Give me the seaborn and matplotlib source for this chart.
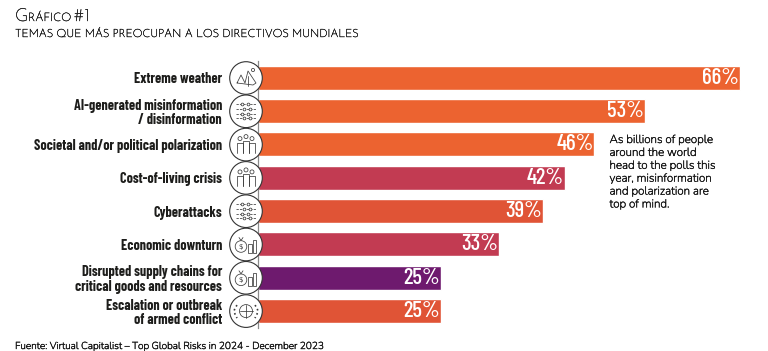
# Top risks bar chart
import numpy as np
import pandas as pd
import matplotlib
matplotlib.use('Agg')
import matplotlib.pyplot as plt
import matplotlib.patheffects as pe
from matplotlib.patches import Circle, Rectangle
import seaborn as sns

# Data
labels = ['Extreme weather', 'AI-generated misinformation\n/ disinformation',
          'Societal and/or political polarization', 'Cost-of-living crisis',
          'Cyberattacks', 'Economic downturn',
          'Disrupted supply chains for\ncritical goods and resources',
          'Escalation or outbreak\nof armed conflict']
values = [66, 53, 46, 42, 39, 33, 25, 25]
bar_colors = ['#EC6330', '#EC6330', '#EC6330', '#C23B52', '#E05436', '#C23B52', '#6E1A6E', '#E05436']
icons = ['nature', 'network', 'people', 'people', 'network', 'money', 'money', 'globe']
note = 'As billions of people\naround the world\nhead to the polls this\nyear, misinformation\nand polarization are\ntop of mind.'
source = 'Fuente: Virtual Capitalist – Top Global Risks in 2024 - December 2023'

sns.set_theme(style='white')
narrow = ['Barlow Condensed', 'Roboto Condensed', 'Roboto', 'DejaVu Sans']
head = ['Josefin Sans', 'Lato', 'DejaVu Sans']
body = ['Nunito Sans', 'Lato', 'DejaVu Sans']
W, H = 768, 351
fig = plt.figure(figsize=(W / 100, H / 100), dpi=100)

# overlay in pixel coordinates for icons and free text
ov = fig.add_axes([0, 0, 1, 1], zorder=3)
ov.set_xlim(0, W)
ov.set_ylim(H, 0)
ov.axis('off')

ax = fig.add_axes([258 / W, 1 - 327.8 / H, 510 / W, 266.8 / H], zorder=1)
df = pd.DataFrame({'label': labels, 'value': values})
sns.barplot(data=df, x='value', y='label', hue='label', palette=bar_colors, legend=False,
            dodge=False, width=0.72, ax=ax, saturation=1)
ax.set_xlim(0, 510 / 7.3)
ax.set_ylim(7.5, -0.5)
ax.set_xlabel('')
ax.set_ylabel('')
ax.set_xticks([])
ax.tick_params(axis='y', length=0, pad=26)
for t in ax.get_yticklabels():
    t.set_fontfamily(narrow)
    t.set_fontweight('bold')
    t.set_fontsize(10.2)
    t.set_color('#1d1d1b')
    t.set_linespacing(1.05)
for s in ['top', 'right', 'bottom']:
    ax.spines[s].set_visible(False)
ax.spines['left'].set_color('#8a8a8a')
ax.spines['left'].set_linewidth(0.9)

for cont in ax.containers:
    ax.bar_label(cont, fmt='%g%%', padding=-27, color='white', fontsize=16.5,
                 fontfamily=narrow, fontweight='medium')


def draw_icon(cx, cy, kind):
    c = '#3a3a3a'
    lw = 0.55
    ov.add_patch(Circle((cx, cy), 16.3, fc='white', ec='#333333', lw=0.8))
    if kind == 'nature':
        ov.plot([cx - 9, cx - 5, cx - 1, cx + 2, cx + 6, cx + 10, cx + 7, cx - 9],
                [cy + 5, cy - 3, cy + 5, cy - 7, cy - 1, cy + 5, cy + 7, cy + 5], c=c, lw=lw)
        ov.plot([cx + 2, cx + 2], [cy - 2, cy + 8], c=c, lw=lw)
        ov.add_patch(Circle((cx + 7, cy - 8), 1.6, fc='none', ec=c, lw=lw))
    elif kind == 'network':
        for dy, dx in [(-7, -2), (-2.5, 2), (2.5, -2), (7, 2)]:
            ov.plot([cx - 10, cx + 10], [cy + dy, cy + dy], c=c, lw=lw, ls=(0, (3, 1.5)))
            ov.plot([cx + dx * 2, cx - dx], [cy + dy, cy + dy], 'o', ms=2, mfc='white', mec=c, mew=lw)
    elif kind == 'people':
        for dx, dy in [(-6, -6), (0, -8), (6, -6)]:
            ov.add_patch(Circle((cx + dx, cy + dy), 2, fc='none', ec=c, lw=lw))
            ov.plot([cx + dx - 2.6, cx + dx - 2.6, cx + dx + 2.6, cx + dx + 2.6],
                    [cy + 8, cy + dy + 4, cy + dy + 4, cy + 8], c=c, lw=lw)
    elif kind == 'money':
        ov.add_patch(Circle((cx - 5, cy + 2), 5.8, fc='none', ec=c, lw=lw))
        ov.plot([cx - 7, cx - 5, cx - 3], [cy - 7, cy - 4, cy - 7], c=c, lw=lw)
        ov.text(cx - 5, cy + 2, '$', ha='center', va='center', fontsize=5, color=c)
        ov.add_patch(Rectangle((cx + 2, cy - 1), 3.5, 9, fc='white', ec=c, lw=lw))
        ov.add_patch(Rectangle((cx + 6.5, cy - 5), 3.5, 13, fc='white', ec=c, lw=lw))
    else:
        ov.add_patch(Circle((cx, cy), 6.5, fc='none', ec=c, lw=lw))
        ov.plot([cx - 6.5, cx + 6.5], [cy, cy], c=c, lw=lw)
        ov.plot([cx, cx], [cy - 6.5, cy + 6.5], c=c, lw=lw)
        for side in (-1, 1):
            ov.plot(cx + side * np.array([9, 11, 12, 11, 9]),
                    cy + np.array([-6, -3, 0, 3, 7]), c=c, lw=1.2, ls=':')


for i, kind in enumerate(icons):
    draw_icon(246, 78 + i * 33.3, kind)

# the light fonts come out too pale, a thin stroke thickens them
thick = [pe.withStroke(linewidth=0.3, foreground='#222222')]

# titles, small caps look built from two sizes
ov.text(15, 21, 'G', fontsize=13, family=head, color='#222222', va='baseline', path_effects=thick)
ov.text(28, 21, 'RÁFICO', fontsize=8.4, family=head, color='#222222', va='baseline', path_effects=thick)
ov.text(74, 21, '#1', fontsize=13, family=head, color='#222222', va='baseline', path_effects=thick)
ov.text(15, 37, 'TEMAS QUE MÁS PREOCUPAN A LOS DIRECTIVOS MUNDIALES', fontsize=8.15,
        family=head, color='#222222', va='baseline', path_effects=thick)
ov.text(609.5, 134, note, fontsize=8.4, family=body, color='#111111', va='top', linespacing=1.21,
        path_effects=thick)
ov.text(15, 349, source, fontsize=7.25, family=body, color='#111111', va='baseline', path_effects=thick)

fig.savefig('out.png', dpi=100)
